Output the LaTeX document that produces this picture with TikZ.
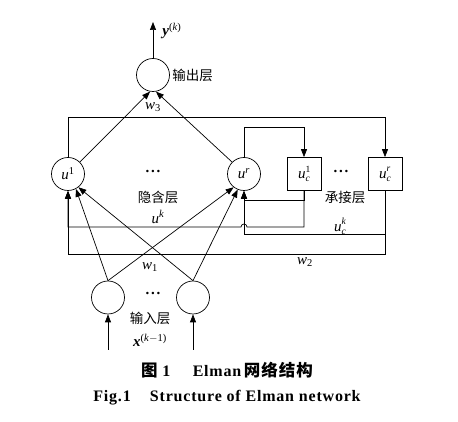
\documentclass[tikz,border=0pt]{standalone}
\usepackage{fontspec}
\setmainfont{Liberation Serif}
\newfontfamily\cjk{Noto Sans CJK SC}
\newfontfamily\cjkcap{Noto Sans CJK SC}[LetterSpace=6]
\usetikzlibrary{arrows.meta,calc}
\newcommand{\uu}[2]{\textit{u}\makebox[0pt][l]{\raisebox{0.45em}{\fontsize{9.5}{9.5}\selectfont #1}}\raisebox{-0.2em}{\fontsize{9.5}{9.5}\selectfont\itshape #2}}
\newcommand{\mydots}{\textbf{.\kern0.12em.\kern0.12em.}}
\begin{document}
\begin{tikzpicture}[x=1pt,y=1pt,
  >={Triangle[length=8pt,width=6pt]},
  line width=0.7pt,
  neuron/.style={circle,draw,minimum size=33pt,inner sep=0pt,font=\fontsize{15}{17}\selectfont},
  ctx/.style={rectangle,draw,minimum width=34pt,minimum height=33pt,inner sep=0pt,font=\fontsize{15}{17}\selectfont},
  lab/.style={font=\fontsize{15}{17}\selectfont,inner sep=0pt},
  cn/.style={font=\cjk\fontsize{13.5}{16}\selectfont,inner sep=0pt},
  captext/.style={font=\bfseries\fontsize{16}{18}\selectfont\addfontfeatures{LetterSpace=5},inner sep=0pt}]
\useasboundingbox (0,0) rectangle (458,422);
% nodes
\node[neuron] (out) at (153,347) {};
\node[neuron] (h1) at (68,248) {\textit{u}\textsuperscript{1}};
\node[neuron] (hr) at (244,248) {\textit{u}\textsuperscript{\textit{r}}};
\node[ctx] (c1) at (304,248) {\uu{1}{c}};
\node[ctx] (cr) at (385,248) {\uu{\textit{r}}{c}};
\node[neuron] (in1) at (108,124.5) {};
\node[neuron] (in2) at (193,124.5) {};
\coordinate (yk) at (153,400);
\coordinate (x1) at (108,72);
\coordinate (x2) at (193,72);
\coordinate (ytop) at (0,305);
\coordinate (ytop2) at (0,295);
\coordinate (yb1) at (0,222);
\coordinate (yb2) at (0,195);
\coordinate (yb3) at (0,188);
\coordinate (yb4) at (0,168);
% labels
\node[lab,anchor=west] (ylab) at (162,391) {\textbf{\textit{y}}\textsuperscript{(\textit{k})}};
\node[cn,anchor=west] (outlab) at (172,347) {输出层};
\node[lab] (w3) at (153,315) {\textit{w}\textsubscript{3}};
\node[lab] (d1) at (153,250) {\mydots};
\node[lab] (d2) at (341,250) {\mydots};
\node[cn] (hidlab) at (158,225) {隐含层};
\node[lab] (uk) at (158,205) {\textit{u}\textsuperscript{\textit{k}}};
\node[cn] (ctxlab) at (345,225) {承接层};
\node[lab] (uck) at (340,196) {\uu{\textit{k}}{c}};
\node[lab] (w1) at (150,155) {\textit{w}\textsubscript{1}};
\node[lab] (w2) at (305,160) {\textit{w}\textsubscript{2}};
\node[lab] (d3) at (153,128) {\mydots};
\node[cn] (inlab) at (150,104) {输入层};
\node[lab] (xlab) at (150,82) {\textbf{\textit{x}}\textsuperscript{(\textit{k}$-$1)}};
\node[captext] (cap1) at (227,52) {{\cjkcap\fontsize{16.5}{18}\selectfont 图} 1\hspace{1.4em}Elman\,{\cjkcap\fontsize{16.5}{18}\selectfont 网络结构}};
\node[captext] (cap2) at (227,24) {Fig.1\hspace{1.2em}Structure of Elman network};
% output
\draw[->] (out.north) -- (yk);
\draw[->] (h1.45) -- (out.-100);
\draw[->] (hr.135) -- (out.-80);
% hidden -> context
\draw[->] (h1.north) -- (h1.north |- ytop) -| (cr.north);
\draw[->] (hr.north) -- (hr.north |- ytop2) -| (c1.north);
% context -> hidden
\draw[->] (c1.south) -- (c1.south |- yb1) -| (hr.south);
\draw[->] (cr.south) -- (cr.south |- yb3) -| (hr.south);
\draw[->] (cr.south) -- (cr.south |- yb4) -| (h1.south);
\draw[->] (c1.south) -- (c1.south |- yb2) -- ($(hr.south |- yb2)+(3,0)$)
  arc[start angle=0,end angle=180,radius=3] -- (h1.south |- yb2) -- (h1.south);
% input -> hidden
\draw[->] (in1.north) -- (h1.-62);
\draw[->] (in2.north) -- (h1.-52);
\draw[->] (in1.north) -- (hr.-128);
\draw[->] (in2.north) -- (hr.-112);
% inputs
\draw[->] (x1) -- (in1.south);
\draw[->] (x2) -- (in2.south);
\end{tikzpicture}
\end{document}
